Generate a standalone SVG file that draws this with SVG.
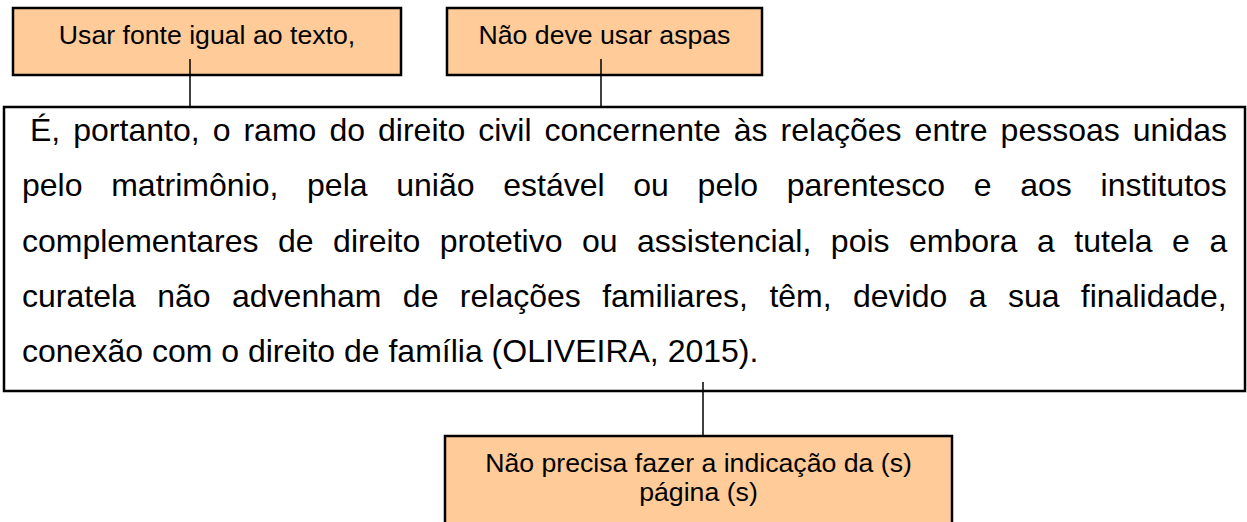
<svg xmlns="http://www.w3.org/2000/svg" width="1247" height="522" viewBox="0 0 1247 522">
<style>
.bg{fill:#ffffff}
.note{fill:#FFCC99;stroke:#000000;stroke-width:2.5}
.main{fill:#ffffff;stroke:#000000;stroke-width:2.5}
.conn{stroke:#000000;stroke-width:1.5;fill:none}
.lbl{font-family:"Liberation Sans",Arial,sans-serif;font-size:26.67px;fill:#000000;text-anchor:middle}
.body{font-family:"Liberation Sans",Arial,sans-serif;font-size:32px;fill:#000000}
</style>
<rect class="bg" x="0" y="0" width="1247" height="522"/>
<g id="main-text">
<rect class="main" x="4" y="107" width="1241" height="284"/>
<text class="body" x="30" y="141" word-spacing="4.15">É, portanto, o ramo do direito civil concernente às relações entre pessoas unidas</text>
<text class="body" x="22" y="196.3" word-spacing="19.8">pelo matrimônio, pela união estável ou pelo parentesco e aos institutos</text>
<text class="body" x="22" y="251.5" word-spacing="10.6">complementares de direito protetivo ou assistencial, pois embora a tutela e a</text>
<text class="body" x="22" y="306.8" word-spacing="12.5">curatela não advenham de relações familiares, têm, devido a sua finalidade,</text>
<text class="body" x="22" y="362">conexão com o direito de família (OLIVEIRA, 2015).</text>
</g>
<g id="note-fonte">
<rect class="note" x="13" y="8" width="388" height="67"/>
<text class="lbl" x="207" y="44">Usar fonte igual ao texto,</text>
</g>
<g id="note-aspas">
<rect class="note" x="447" y="8" width="315" height="67"/>
<text class="lbl" x="604.5" y="44">Não deve usar aspas</text>
</g>
<g id="note-pagina">
<rect class="note" x="445" y="436" width="507" height="100"/>
<text class="lbl" x="698.5" y="472">Não precisa fazer a indicação da (s)</text>
<text class="lbl" x="698.5" y="501">página (s)</text>
</g>
<g id="connectors">
<line class="conn" x1="190" y1="59" x2="190" y2="107"/>
<line class="conn" x1="601" y1="59" x2="601" y2="107"/>
<line class="conn" x1="703" y1="382" x2="703" y2="436"/>
</g>
</svg>
